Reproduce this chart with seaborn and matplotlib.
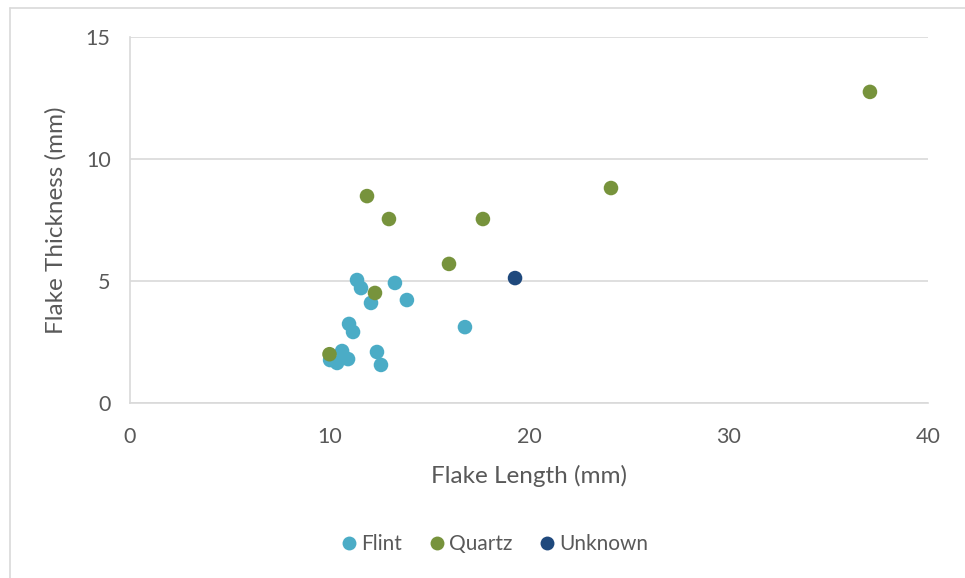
import matplotlib
matplotlib.use("Agg")
import matplotlib.pyplot as plt
import seaborn as sns
import pandas as pd
from matplotlib.lines import Line2D

flint_x = [11.38, 11.58, 13.28, 12.08, 13.88, 10.98, 11.18, 16.79, 10.63, 12.38, 10.03, 10.38, 10.93, 12.58]
flint_y = [5.04, 4.71, 4.92, 4.10, 4.22, 3.24, 2.91, 3.11, 2.13, 2.09, 1.76, 1.64, 1.80, 1.56]
quartz_x = [10.0, 12.28, 11.88, 12.98, 17.69, 15.99, 24.11, 37.09]
quartz_y = [2.0, 4.51, 8.48, 7.54, 7.54, 5.70, 8.81, 12.75]
unknown_x = [19.30]
unknown_y = [5.12]

categories = ["Flint", "Quartz", "Unknown"]
colors = {"Flint": "#4BACC6", "Quartz": "#77933C", "Unknown": "#1F497D"}

df = pd.concat([
    pd.DataFrame({"x": flint_x, "y": flint_y, "Material": "Flint"}),
    pd.DataFrame({"x": quartz_x, "y": quartz_y, "Material": "Quartz"}),
    pd.DataFrame({"x": unknown_x, "y": unknown_y, "Material": "Unknown"}),
])

sns.set_theme(style="white")
plt.rcParams["font.family"] = ["Lato", "DejaVu Sans"]
text_color = "#595959"
grid_color = "#D9D9D9"

fig = plt.figure(figsize=(9.65, 5.78), dpi=100)
ax = fig.add_axes([130 / 965, 1 - 403 / 578, (928 - 130) / 965, (403 - 37) / 578])

sns.scatterplot(data=df, x="x", y="y", hue="Material", hue_order=categories,
                palette=colors, s=110, linewidth=0, ax=ax, legend=False, zorder=3)

ax.set_xlim(0, 40)
ax.set_ylim(0, 15)
ax.set_xticks([0, 10, 20, 30, 40])
ax.set_yticks([0, 5, 10, 15])
ax.grid(axis="y", color=grid_color, linewidth=1.2)
ax.set_axisbelow(True)
for side in ["top", "right"]:
    ax.spines[side].set_visible(False)
ax.spines["left"].set_color(grid_color)
ax.spines["bottom"].set_color(grid_color)
ax.spines["left"].set_linewidth(1.2)
ax.spines["bottom"].set_linewidth(1.2)
ax.tick_params(axis="x", length=0, labelsize=15.5, colors=text_color, pad=17)
ax.tick_params(axis="y", length=0, labelsize=15.5, colors=text_color, pad=14)
ax.set_xlabel("Flake Length (mm)", fontsize=17.5, color=text_color, labelpad=13)
ax.set_ylabel("Flake Thickness (mm)", fontsize=17.5, color=text_color, labelpad=14)

handles = [Line2D([], [], marker="o", linestyle="", markersize=10,
                  markerfacecolor=colors[c], markeredgewidth=0, label=c) for c in categories]
leg = fig.legend(handles=handles, loc="center", bbox_to_anchor=(493 / 965, 1 - 544 / 578),
                 ncol=3, frameon=False, fontsize=15, handletextpad=0.05, columnspacing=1.1,
                 handlelength=1.1)
for t in leg.get_texts():
    t.set_color(text_color)

# chart area border (left and top visible)
fig.add_artist(Line2D([9.5 / 965, 9.5 / 965], [0, 1 - 7.5 / 578], transform=fig.transFigure,
                      color=grid_color, linewidth=1.2))
fig.add_artist(Line2D([9.5 / 965, 1], [1 - 7.5 / 578, 1 - 7.5 / 578], transform=fig.transFigure,
                      color=grid_color, linewidth=1.2))

fig.savefig("out.png", dpi=100)
